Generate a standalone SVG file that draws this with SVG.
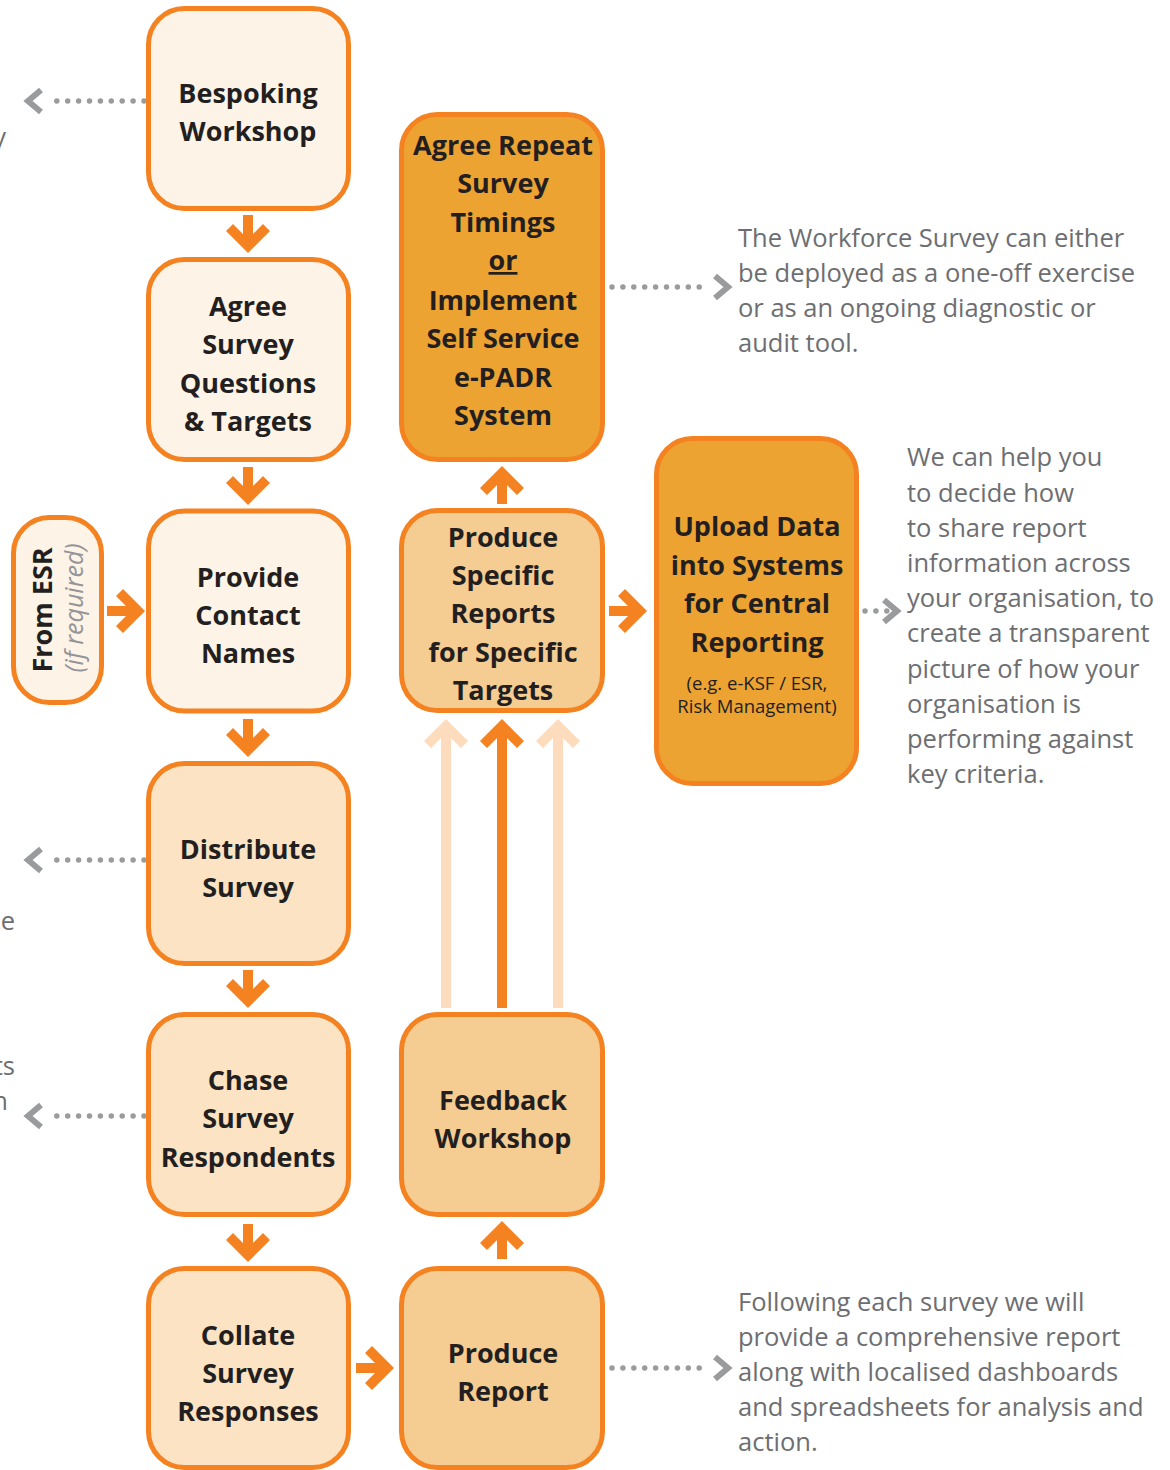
<svg xmlns="http://www.w3.org/2000/svg" xmlns:xlink="http://www.w3.org/1999/xlink" width="1170" height="1470" viewBox="0 0 1170 1470">
  <defs>
    <style>
      .box { stroke: #f58220; stroke-width: 5; }
      .f-cream { fill: #fdf3e6; }
      .f-peach { fill: #fbe3c3; }
      .f-tan { fill: #f5cc91; }
      .f-gold { fill: #eca332; }
      .lbl { font-family: "Open Sans", "Liberation Sans", sans-serif; font-weight: 700; font-size: 27px; fill: #231f20; text-anchor: middle; }
      .small { font-family: "Open Sans", "Liberation Sans", sans-serif; font-weight: 400; font-size: 18.5px; fill: #231f20; text-anchor: middle; }
      .note { font-family: "Open Sans", "Liberation Sans", sans-serif; font-weight: 400; font-size: 25.5px; fill: #6d6e71; }
      .hint { font-family: "Open Sans", "Liberation Sans", sans-serif; font-style: italic; font-weight: 400; font-size: 25px; fill: #939598; text-anchor: middle; }
      .dots { stroke: #9a9b9d; stroke-width: 5.5; stroke-linecap: round; stroke-dasharray: 0 10.9; fill: none; }
      .chev { stroke: #9a9b9d; stroke-width: 6; fill: none; stroke-linejoin: miter; }
      .arr { fill: #f58220; }
      .arr-light { fill: #fddbbd; }
    </style>
    <!-- chevron head pointing down, tip at origin -->
    <polygon id="chevron" points="0,0 -22,-22 -15,-29 0,-14 15,-29 22,-22"/>
    <!-- short block arrow pointing down, tip at origin -->
    <g id="arrow">
      <use href="#chevron"/>
      <rect x="-5" y="-38" width="10" height="30"/>
    </g>
  </defs>

  <!-- connectors -->
  <g id="connectors">
    <!-- main column flow -->
    <use href="#arrow" class="arr" transform="translate(248,253)"/>
    <use href="#arrow" class="arr" transform="translate(248,505)"/>
    <use href="#arrow" class="arr" transform="translate(248,757)"/>
    <use href="#arrow" class="arr" transform="translate(248,1008)"/>
    <use href="#arrow" class="arr" transform="translate(248,1262)"/>
    <!-- sideways arrows -->
    <use href="#arrow" class="arr" transform="translate(145,611) rotate(-90)"/>
    <use href="#arrow" class="arr" transform="translate(647,611) rotate(-90)"/>
    <use href="#arrow" class="arr" transform="translate(394,1368) rotate(-90)"/>
    <!-- upward arrows -->
    <use href="#arrow" class="arr" transform="translate(502,466) rotate(180)"/>
    <use href="#arrow" class="arr" transform="translate(502,1221) rotate(180)"/>

    <!-- long arrows from feedback to specific reports -->
    <g class="arr-light">
      <use href="#chevron" transform="translate(446,719) rotate(180)"/>
      <rect x="441" y="727" width="10" height="281"/>
      <use href="#chevron" transform="translate(558,719) rotate(180)"/>
      <rect x="553" y="727" width="10" height="281"/>
    </g>
    <g class="arr">
      <use href="#chevron" transform="translate(502,719) rotate(180)"/>
      <rect x="497" y="727" width="10" height="281"/>
    </g>

    <!-- dotted pointers to the left -->
    <path class="dots" d="M144,101 H46"/>
    <polyline class="chev" points="41,90 28,101 41,112"/>
    <path class="dots" d="M144,860 H46"/>
    <polyline class="chev" points="41,849 28,860 41,871"/>
    <path class="dots" d="M144,1116 H46"/>
    <polyline class="chev" points="41,1105 28,1116 41,1127"/>

    <!-- dotted pointers to the right -->
    <path class="dots" d="M612,287 H710"/>
    <polyline class="chev" points="715,276 728,287 715,298"/>
    <path class="dots" d="M612,1368 H710"/>
    <polyline class="chev" points="715,1357 728,1368 715,1379"/>
    <path class="dots" d="M865,611 H888"/>
    <polyline class="chev" points="884,600 897,611 884,622"/>
  </g>

  <!-- left column -->
  <g id="bespoking-workshop">
    <rect class="box f-cream" x="148.5" y="8.5" width="200" height="200" rx="36"/>
    <text class="lbl" x="248" y="103">Bespoking</text>
    <text class="lbl" x="248" y="141">Workshop</text>
  </g>
  <g id="agree-survey-questions">
    <rect class="box f-cream" x="148.5" y="259.5" width="200" height="200" rx="36"/>
    <text class="lbl" x="248" y="316">Agree</text>
    <text class="lbl" x="248" y="354">Survey</text>
    <text class="lbl" x="248" y="393">Questions</text>
    <text class="lbl" x="248" y="431">&amp; Targets</text>
  </g>
  <g id="provide-contact-names">
    <rect class="box f-cream" x="148.5" y="511" width="200" height="200" rx="36"/>
    <text class="lbl" x="248" y="587">Provide</text>
    <text class="lbl" x="248" y="625">Contact</text>
    <text class="lbl" x="248" y="663">Names</text>
  </g>
  <g id="distribute-survey">
    <rect class="box f-peach" x="148.5" y="763.5" width="200" height="200" rx="36"/>
    <text class="lbl" x="248" y="859">Distribute</text>
    <text class="lbl" x="248" y="897">Survey</text>
  </g>
  <g id="chase-respondents">
    <rect class="box f-peach" x="148.5" y="1014.5" width="200" height="200" rx="36"/>
    <text class="lbl" x="248" y="1090">Chase</text>
    <text class="lbl" x="248" y="1128">Survey</text>
    <text class="lbl" x="248" y="1167">Respondents</text>
  </g>
  <g id="collate-responses">
    <rect class="box f-peach" x="148.5" y="1268.5" width="200" height="199" rx="36"/>
    <text class="lbl" x="248" y="1345">Collate</text>
    <text class="lbl" x="248" y="1383">Survey</text>
    <text class="lbl" x="248" y="1421">Responses</text>
  </g>

  <!-- ESR source -->
  <g id="from-esr">
    <rect class="box f-cream" x="13.5" y="517.5" width="88" height="185" rx="36"/>
    <text class="lbl" transform="translate(52,610) rotate(-90)">From ESR</text>
    <text class="hint" transform="translate(83,608) rotate(-90)">(if required)</text>
  </g>

  <!-- middle column -->
  <g id="agree-repeat">
    <rect class="box f-gold" x="401.5" y="114.5" width="201" height="345" rx="36"/>
    <text class="lbl" x="503" y="155">Agree Repeat</text>
    <text class="lbl" x="503" y="193">Survey</text>
    <text class="lbl" x="503" y="232">Timings</text>
    <text class="lbl" x="503" y="270" text-decoration="underline">or</text>
    <text class="lbl" x="503" y="310">Implement</text>
    <text class="lbl" x="503" y="348">Self Service</text>
    <text class="lbl" x="503" y="387">e-PADR</text>
    <text class="lbl" x="503" y="425">System</text>
  </g>
  <g id="specific-reports">
    <rect class="box f-tan" x="401.5" y="510.5" width="201" height="200" rx="36"/>
    <text class="lbl" x="503" y="547">Produce</text>
    <text class="lbl" x="503" y="585">Specific</text>
    <text class="lbl" x="503" y="623">Reports</text>
    <text class="lbl" x="503" y="662">for Specific</text>
    <text class="lbl" x="503" y="700">Targets</text>
  </g>
  <g id="feedback-workshop">
    <rect class="box f-tan" x="401.5" y="1014.5" width="201" height="200" rx="36"/>
    <text class="lbl" x="503" y="1110">Feedback</text>
    <text class="lbl" x="503" y="1148">Workshop</text>
  </g>
  <g id="produce-report">
    <rect class="box f-tan" x="401.5" y="1268.5" width="201" height="199" rx="36"/>
    <text class="lbl" x="503" y="1363">Produce</text>
    <text class="lbl" x="503" y="1401">Report</text>
  </g>

  <!-- right column -->
  <g id="upload-data">
    <rect class="box f-gold" x="656.5" y="438.5" width="200" height="345" rx="36"/>
    <text class="lbl" x="757" y="536">Upload Data</text>
    <text class="lbl" x="757" y="575">into Systems</text>
    <text class="lbl" x="757" y="613">for Central</text>
    <text class="lbl" x="757" y="652">Reporting</text>
    <text class="small" x="757" y="690">(e.g. e-KSF / ESR,</text>
    <text class="small" x="757" y="713">Risk Management)</text>
  </g>

  <!-- explanatory notes -->
  <g id="note-repeat">
    <text class="note" x="738" y="247">The Workforce Survey can either</text>
    <text class="note" x="738" y="282">be deployed as a one-off exercise</text>
    <text class="note" x="738" y="317">or as an ongoing diagnostic or</text>
    <text class="note" x="738" y="352">audit tool.</text>
  </g>
  <g id="note-upload">
    <text class="note" x="907" y="466">We can help you</text>
    <text class="note" x="907" y="502">to decide how</text>
    <text class="note" x="907" y="537">to share report</text>
    <text class="note" x="907" y="572">information across</text>
    <text class="note" x="907" y="607">your organisation, to</text>
    <text class="note" x="907" y="642">create a transparent</text>
    <text class="note" x="907" y="678">picture of how your</text>
    <text class="note" x="907" y="713">organisation is</text>
    <text class="note" x="907" y="748">performing against</text>
    <text class="note" x="907" y="783">key criteria.</text>
  </g>
  <g id="note-report">
    <text class="note" x="738" y="1311">Following each survey we will</text>
    <text class="note" x="738" y="1346">provide a comprehensive report</text>
    <text class="note" x="738" y="1381">along with localised dashboards</text>
    <text class="note" x="738" y="1416">and spreadsheets for analysis and</text>
    <text class="note" x="738" y="1451">action.</text>
  </g>
  <!-- note endings running in from the left edge -->
  <g id="note-edges">
    <text class="note" x="6" y="146" text-anchor="end">y</text>
    <text class="note" x="15" y="930" text-anchor="end">e</text>
    <text class="note" x="15" y="1075" text-anchor="end">ts</text>
    <text class="note" x="8" y="1110" text-anchor="end">n</text>
  </g>
</svg>
